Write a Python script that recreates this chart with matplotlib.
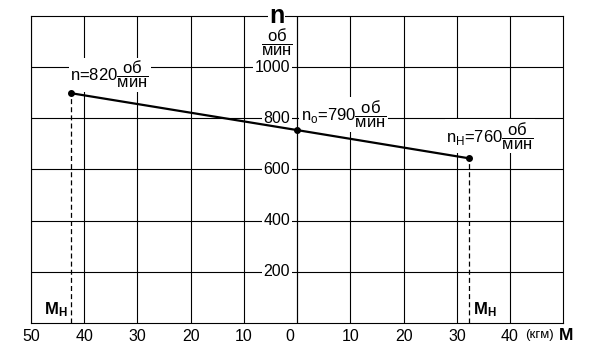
import numpy as np
import matplotlib
matplotlib.use('Agg')
import matplotlib.pyplot as plt
import matplotlib.transforms as mtransforms

plt.rcParams['font.family'] = ['Liberation Sans', 'DejaVu Sans']
plt.rcParams['mathtext.fontset'] = 'custom'
plt.rcParams['mathtext.rm'] = 'Liberation Sans'
plt.rcParams['mathtext.it'] = 'Liberation Sans:italic'
plt.rcParams['mathtext.bf'] = 'Liberation Sans:bold'

# data
moment = [-42.4, 0.0, 32.2]          # M, кгм (left side = other direction)
speed = [898, 754, 644]              # n, об/мин
x_ticks = [-50, -40, -30, -20, -10, 0, 10, 20, 30, 40]
x_labels = ['50', '40', '30', '20', '10', '0', '10', '20', '30', '40']
y_ticks = [200, 400, 600, 800, 1000]
y_labels = ['200', '400', '600', '800', '1000']
frac = r'\dfrac{\mathrm{об}}{\mathrm{мин}}'
notes = [r'n=820$' + frac + '$',
         r'$\mathrm{n}_{\mathrm{o}}$=790$' + frac + '$',
         r'$\mathrm{n}_{\mathrm{Н}}$=760$' + frac + '$']
note_pos = [(-42.6, 970), (0.7, 815), (28.0, 731)]

fig = plt.figure(figsize=(5.95, 3.61), dpi=100)
ax = fig.add_axes([0.0521, 0.1053, 0.8946, 0.8504])
ax.set_xlim(-50, 50)
ax.set_ylim(0, 1200)

ax.set_xticks(x_ticks)
ax.set_xticklabels(x_labels, fontsize=11.5)
ax.set_yticks(y_ticks)
ax.set_yticklabels([])
ax.tick_params(length=0, pad=4.5)
ax.grid(True, color='black', linewidth=0.8)
for sp in ax.spines.values():
    sp.set_linewidth(0.8)

# shift the "0" label a bit left like in the original
zl = ax.get_xticklabels()[5]
zl.set_transform(zl.get_transform() + mtransforms.ScaledTranslation(-7/100, 0, fig.dpi_scale_trans))

# vertical axis in the middle
ax.axvline(0, color='black', linewidth=0.8)

# y labels left of the middle axis
for yv, lab in zip(y_ticks, y_labels):
    ax.text(-1.3, yv, lab, ha='right', va='center', fontsize=11.5, zorder=4,
            bbox=dict(facecolor='white', edgecolor='none', boxstyle='square,pad=0.1'))

# characteristic line
ax.plot(moment, speed, color='black', linewidth=1.6, zorder=5)
ax.plot(moment, speed, 'o', color='black', markersize=4, zorder=6)

# dashed drops to the axis
for i in [0, 2]:
    ax.plot([moment[i], moment[i]], [0, speed[i]], color='black', linewidth=0.9,
            linestyle=(0, (4, 2.5)), zorder=4)

ax.annotate(r'$\mathbf{M}_{\mathbf{Н}}$', xy=(moment[0], 0), xytext=(-2.5, 3),
            textcoords='offset points', ha='right', va='bottom', fontsize=12)
ax.annotate(r'$\mathbf{M}_{\mathbf{Н}}$', xy=(moment[2], 0), xytext=(3, 3),
            textcoords='offset points', ha='left', va='bottom', fontsize=12)

for txt, (xp, yp) in zip(notes, note_pos):
    ax.text(xp, yp, txt, ha='left', va='center', fontsize=12, zorder=4,
            bbox=dict(facecolor='white', edgecolor='none', boxstyle='square,pad=0.1'))

# axis titles
trans = mtransforms.blended_transform_factory(ax.transData, ax.transAxes)
ax.text(-3.9, 1.0, 'n', transform=trans, ha='center', va='center', fontsize=18,
        fontweight='bold', zorder=7, clip_on=False,
        bbox=dict(facecolor='white', edgecolor='none', boxstyle='square,pad=0.05'))
ax.text(-3.8, 1096, '$' + frac + '$', ha='center', va='center', fontsize=12, zorder=8)

ax.text(0.956, -0.04, '(кгм)', transform=ax.transAxes, ha='center', va='center',
        fontsize=9.5, clip_on=False)
ax.text(1.005, -0.04, 'M', transform=ax.transAxes, ha='center', va='center',
        fontsize=12.5, fontweight='bold', clip_on=False)

fig.savefig('out.png', dpi=100)
